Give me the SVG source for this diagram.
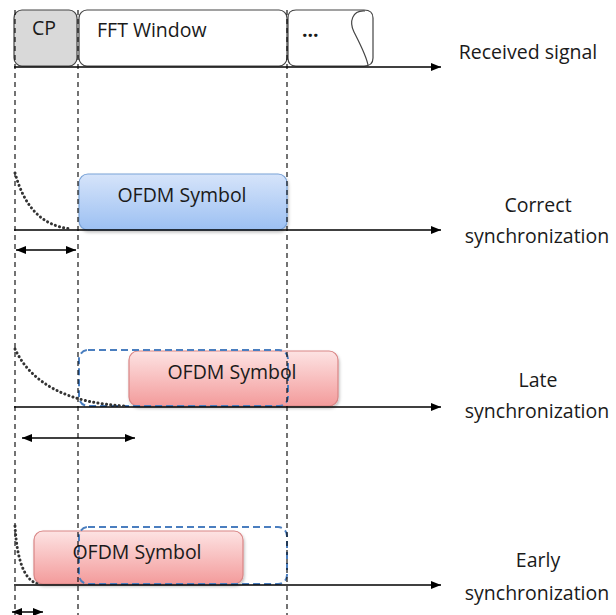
<svg xmlns="http://www.w3.org/2000/svg" width="616" height="615" viewBox="0 0 616 615">
<defs>
<linearGradient id="gBlue" x1="0" y1="0" x2="0" y2="1"><stop offset="0" stop-color="#d6e4fa"/><stop offset="1" stop-color="#9cc0f2"/></linearGradient>
<linearGradient id="gRed" x1="0" y1="0" x2="0" y2="1"><stop offset="0" stop-color="#fde3e3"/><stop offset="1" stop-color="#f39b9b"/></linearGradient>
<marker id="ah" viewBox="0 0 10 10" refX="10" refY="5" markerWidth="10" markerHeight="10" markerUnits="userSpaceOnUse" orient="auto-start-reverse"><path d="M0,1 L10,5 L0,9 z" fill="#000"/></marker>
<filter id="sh" x="-10%" y="-10%" width="120%" height="130%"><feDropShadow dx="1" dy="2" stdDeviation="1.5" flood-color="#000" flood-opacity="0.25"/></filter>
</defs>
<style>
text{font-family:"Open Sans","Liberation Sans",sans-serif;font-size:19.5px;fill:#1a1a1a}
.axis{stroke:#000;stroke-width:1.5;fill:none}
.vd{stroke:#000;stroke-width:1.1;stroke-dasharray:5,4;fill:none}
.dot{stroke:#333;stroke-width:3;stroke-dasharray:0.1,4.2;fill:none;stroke-linecap:round}
.dbl{stroke:#000;stroke-width:1.5;fill:none}
.frame{stroke:#444;stroke-width:1.2}
.dash{fill:none;stroke:#4a7ebf;stroke-width:2;stroke-dasharray:7,4}
</style>
<rect width="616" height="615" fill="#fff"/>
<g id="received">
<rect x="14" y="10" width="63" height="56" rx="8" fill="#d9d9d9" class="frame"/>
<text x="44" y="35" text-anchor="middle">CP</text>
<rect x="79" y="10" width="208" height="56" rx="8" fill="#fff" class="frame"/>
<text x="97" y="37">FFT Window</text>
<path d="M296,10 H364 Q373,10 373,18 V58 Q373,66 364,66 H296 Q288,66 288,58 V18 Q288,10 296,10 Z" fill="#fff" class="frame"/>
<path d="M365,11 C352,10 349,22 354,32 C359,42 366,55 368,65" fill="none" class="frame"/>
<text x="302" y="37" font-weight="bold" font-size="16">...</text>
</g>
<g id="correct">
<rect x="79" y="174" width="208" height="56" rx="9" fill="url(#gBlue)" stroke="#7aa3d8" stroke-width="1.2" filter="url(#sh)"/>
<text x="182" y="202" text-anchor="middle">OFDM Symbol</text>
</g>
<g id="late">
<rect x="129" y="351" width="209" height="55" rx="9" fill="url(#gRed)" stroke="#d98585" stroke-width="1.2" filter="url(#sh)"/>
<rect x="79" y="350" width="209" height="56" rx="9" class="dash"/>
<text x="232" y="379" text-anchor="middle">OFDM Symbol</text>
</g>
<g id="early">
<rect x="34" y="531" width="209" height="53" rx="9" fill="url(#gRed)" stroke="#d98585" stroke-width="1.2" filter="url(#sh)"/>
<rect x="79" y="527" width="208" height="57" rx="9" class="dash"/>
<text x="137" y="559" text-anchor="middle">OFDM Symbol</text>
</g>
<g id="connectors">
<line class="vd" x1="15" y1="10" x2="15" y2="615"/>
<line class="vd" x1="78" y1="10" x2="78" y2="615"/>
<line class="vd" x1="287" y1="10" x2="287" y2="615"/>
<line class="axis" x1="14" y1="67" x2="441" y2="67" marker-end="url(#ah)"/>
<line class="axis" x1="14" y1="230" x2="441" y2="230" marker-end="url(#ah)"/>
<line class="axis" x1="14" y1="407" x2="441" y2="407" marker-end="url(#ah)"/>
<line class="axis" x1="14" y1="585" x2="441" y2="585" marker-end="url(#ah)"/>
<path class="dot" d="M15,173 C24,205 40,226 72,229"/>
<path class="dot" d="M15,349 C32,385 70,403 125,406"/>
<path class="dot" d="M15,526 C17,560 24,580 38,584"/>
<line class="dbl" x1="16" y1="250" x2="76" y2="250" marker-start="url(#ah)" marker-end="url(#ah)"/>
<line class="dbl" x1="22" y1="438" x2="135" y2="438" marker-start="url(#ah)" marker-end="url(#ah)"/>
<line class="dbl" x1="12" y1="612" x2="43" y2="612" marker-start="url(#ah)" marker-end="url(#ah)"/>
</g>
<g id="labels">
<text x="528" y="59" text-anchor="middle">Received signal</text>
<text x="538" y="212" text-anchor="middle">Correct</text>
<text x="537" y="243" text-anchor="middle">synchronization</text>
<text x="538" y="387" text-anchor="middle">Late</text>
<text x="537" y="418" text-anchor="middle">synchronization</text>
<text x="538" y="567" text-anchor="middle">Early</text>
<text x="537" y="600" text-anchor="middle">synchronization</text>
</g>
</svg>
